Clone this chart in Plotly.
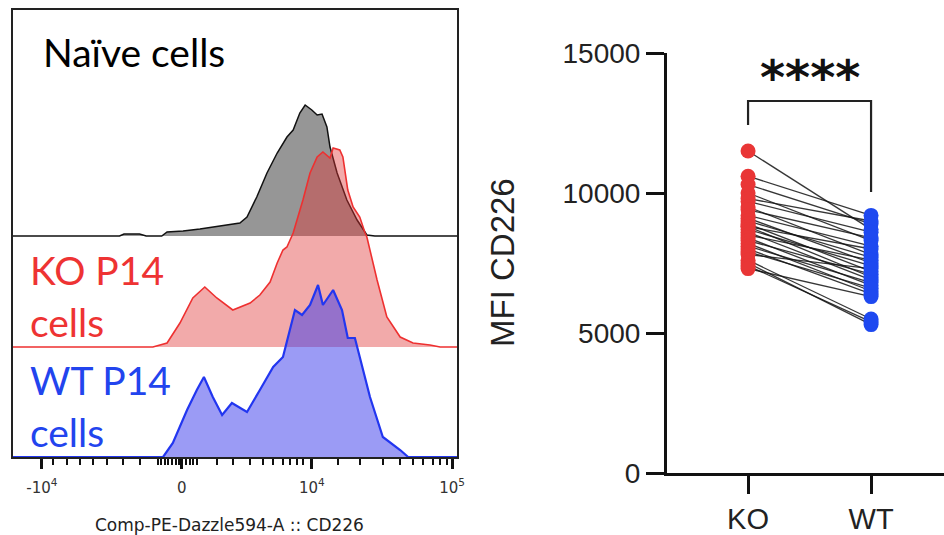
import plotly.graph_objects as go

# ---- Flow cytometry histograms: CD226 display channel (0-1000) vs event count ----
naive_ch = [0, 240, 250, 285, 300, 335, 347, 383, 421, 450, 495, 511, 527, 549, 572, 595,
            617, 631, 646, 658, 673, 685, 696, 707, 714, 730, 752, 775, 797, 815, 1000]
naive_ct = [0, 0, 2, 2, 0, 0, 4, 5, 7, 9, 12, 13, 19, 39, 63, 83,
            99, 106, 123, 131, 126, 121, 122, 109, 89, 63, 36, 16, 1, 0, 0]

ko_ch = [0, 315, 347, 376, 405, 432, 459, 495, 534, 556, 579, 595, 608, 617, 631, 653, 669, 685,
         698, 714, 721, 736, 743, 754, 766, 781, 793, 797, 820, 842, 872, 901, 939, 962, 1000]
ko_ct = [0, 0, 4, 24, 49, 60, 49, 37, 44, 52, 65, 84, 97, 100, 114, 147, 174, 190,
         195, 189, 199, 197, 190, 157, 140, 130, 114, 110, 67, 30, 10, 4, 2, 0, 0]

wt_ch = [0, 338, 360, 392, 414, 430, 450, 471, 493, 527, 556, 586, 608, 624, 635, 651, 669,
         687, 698, 721, 741, 754, 770, 781, 804, 833, 872, 890, 1000]
wt_ct = [0, 0, 14, 47, 67, 80, 60, 42, 54, 45, 67, 90, 100, 127, 147, 142, 152,
         172, 152, 167, 147, 119, 119, 100, 60, 20, 7, 0, 0]

# biexponential axis: major tick channels and labels
major_ch = [65, 380, 673, 989]
major_lbl = ["-10<sup>4</sup>", "0", "10<sup>4</sup>", "10<sup>5</sup>"]
minor_ch = [90, 122, 151, 180, 212, 248, 286,
            326, 334, 342, 350, 358, 366, 374, 390, 398, 406, 414,
            459, 495, 534, 563, 586, 608, 624, 640, 653,
            732, 781, 833, 872, 901, 923, 946, 962, 977]

# ---- Paired MFI of CD226 ----
groups = ["KO", "WT"]
mfi_ko = [11500, 10600, 10300, 10000, 9800, 9700, 9500, 9400, 9200, 9100, 9000, 8900, 8800, 8800,
          8700, 8600, 8500, 8400, 8300, 8200, 8100, 8000, 7900, 7800, 7600, 7500, 7400, 7300]
mfi_wt = [8700, 9200, 8900, 8300, 9000, 8600, 7800, 8400, 8100, 7500, 7700, 7200, 8000, 7000,
          7400, 6900, 7600, 6700, 7100, 6500, 6800, 6400, 6600, 7300, 5500, 5300, 5400, 6300]
y_ticks = [0, 5000, 10000, 15000]

W, H = 944, 535
# vertical offsets of the stacked histograms (WT bottom, KO middle, naive top)
OFF_WT, OFF_KO, OFF_NAIVE = 0, 110, 221

fig = go.Figure()


def add_hist(ch, ct, off, line_color, fill_color, lw):
    fig.add_trace(go.Scatter(x=[0, 1000], y=[off, off], mode="lines",
                             line=dict(width=0), hoverinfo="skip", showlegend=False,
                             xaxis="x", yaxis="y"))
    fig.add_trace(go.Scatter(x=ch, y=[off + c for c in ct], mode="lines",
                             line=dict(color=line_color, width=lw), fill="tonexty",
                             fillcolor=fill_color, showlegend=False, xaxis="x", yaxis="y"))


add_hist(naive_ch, naive_ct, OFF_NAIVE, "#111111", "rgba(150,150,150,1)", 1.5)
add_hist(ko_ch, ko_ct, OFF_KO, "#EE3030", "rgba(224,52,52,0.42)", 1.6)
add_hist(wt_ch, wt_ct, OFF_WT, "#2236F0", "rgba(56,56,236,0.5)", 2.2)

# paired lines
lx, ly = [], []
for a, b in zip(mfi_ko, mfi_wt):
    lx += [groups[0], groups[1], None]
    ly += [a, b, None]
fig.add_trace(go.Scatter(x=lx, y=ly, mode="lines", line=dict(color="rgba(20,20,20,0.85)", width=1.3),
                         showlegend=False, xaxis="x2", yaxis="y2", connectgaps=False))
fig.add_trace(go.Scatter(x=[groups[0]] * len(mfi_ko), y=mfi_ko, mode="markers",
                         marker=dict(color="#E93636", size=15, line=dict(width=0)),
                         showlegend=False, xaxis="x2", yaxis="y2"))
fig.add_trace(go.Scatter(x=[groups[1]] * len(mfi_wt), y=mfi_wt, mode="markers",
                         marker=dict(color="#1E49F0", size=15, line=dict(width=0)),
                         showlegend=False, xaxis="x2", yaxis="y2"))

label_font = dict(family="Lato", size=39)
annotations = [
    dict(text="Naïve cells", x=41 / W, y=1 - 52 / H, font=dict(color="#000000", **label_font)),
    dict(text="KO P14", x=28 / W, y=1 - 270 / H, font=dict(color="#EE3333", **label_font)),
    dict(text="cells", x=28 / W, y=1 - 322 / H, font=dict(color="#EE3333", **label_font)),
    dict(text="WT P14", x=28 / W, y=1 - 380 / H, font=dict(color="#2244EE", **label_font)),
    dict(text="cells", x=28 / W, y=1 - 432 / H, font=dict(color="#2244EE", **label_font)),
]
for a in annotations:
    a.update(xref="paper", yref="paper", xanchor="left", yanchor="middle", showarrow=False)

annotations.append(dict(text="Comp-PE-Dazzle594-A :: CD226", x=229 / W, y=1 - 525 / H,
                        xref="paper", yref="paper", showarrow=False,
                        xanchor="center", yanchor="middle",
                        font=dict(family="DejaVu Sans", size=17, color="#222222")))
annotations.append(dict(text="MFI CD226", x=502 / W, y=1 - 263 / H, xref="paper", yref="paper",
                        textangle=-90, showarrow=False, xanchor="center", yanchor="middle",
                        font=dict(family="Liberation Sans", size=33, color="#222222")))
annotations.append(dict(text="<b>****</b>", x=0.5, y=14150, xref="x2", yref="y2", showarrow=False,
                        xanchor="center", yanchor="middle",
                        font=dict(family="DejaVu Sans", size=48, color="#111111")))

shapes = [dict(type="path", xref="x2", yref="y2",
               path="M 0,12430 L 0,13286 L 1,13286 L 1,10036",
               line=dict(color="#222222", width=2.2))]

fig.update_layout(
    width=W, height=H, margin=dict(l=0, r=0, t=0, b=0, autoexpand=False),
    paper_bgcolor="white", plot_bgcolor="white",
    annotations=annotations, shapes=shapes,
    xaxis=dict(domain=[13 / W, 457 / W], range=[0, 1000], showgrid=False, zeroline=False,
               automargin=False,
               showline=True, mirror=True, linecolor="#222222", linewidth=1.5,
               ticks="outside", tickmode="array", tickvals=major_ch, ticktext=major_lbl,
               ticklen=10, tickwidth=3, tickcolor="#111111", ticklabelstandoff=6,
               minor=dict(tickmode="array", tickvals=minor_ch, ticks="outside",
                          ticklen=6, tickwidth=2, tickcolor="#111111"),
               tickfont=dict(family="DejaVu Sans", size=15, color="#333333")),
    yaxis=dict(domain=[1 - 457 / H, 1 - 10 / H], range=[0, 447], showgrid=False, zeroline=False,
               automargin=False,
               showline=True, mirror=True, linecolor="#222222", linewidth=1.5,
               showticklabels=False, ticks=""),
    xaxis2=dict(domain=[667 / W, 1.0], anchor="y2", type="category", categoryarray=groups,
                range=[-0.659, 1.593], showgrid=False, zeroline=False, showline=True,
                automargin=False,
                linecolor="#111111", linewidth=3, ticks="outside", ticklen=18, tickwidth=3,
                tickcolor="#111111",
                tickfont=dict(family="Liberation Sans", size=29, color="#222222")),
    yaxis2=dict(domain=[1 - 473 / H, 1 - 53 / H], anchor="x2", range=[0, 15000],
                automargin=False,
                tickmode="array", tickvals=y_ticks, ticktext=[str(v) for v in y_ticks],
                showgrid=False, zeroline=False,
                showline=True, linecolor="#111111", linewidth=3, ticks="outside",
                ticklen=18, tickwidth=3, tickcolor="#111111",
                tickfont=dict(family="Liberation Sans", size=28, color="#222222")),
)

fig.write_html("out.html")
